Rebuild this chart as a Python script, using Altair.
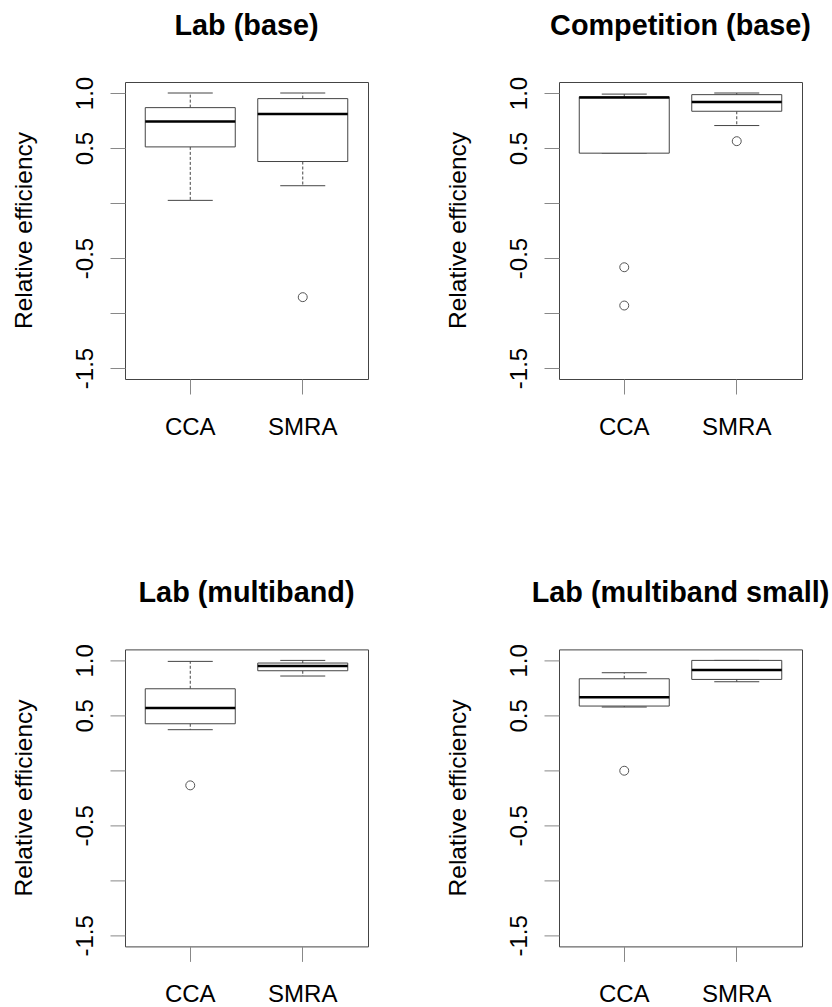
import altair as alt
import pandas as pd

# Box-plot summaries of relative efficiency for each experiment and method
panels = ["Lab (base)", "Competition (base)", "Lab (multiband)", "Lab (multiband small)"]
methods = ["CCA", "SMRA"]

lower_whisker = [[0.024, 0.157], [0.453, 0.704], [0.370, 0.858], [0.576, 0.806]]
q1 = [[0.510, 0.377], [0.453, 0.834], [0.424, 0.906], [0.585, 0.827]]
median = [[0.740, 0.810], [0.958, 0.918], [0.567, 0.948], [0.664, 0.912]]
q3 = [[0.867, 0.949], [0.965, 0.985], [0.742, 0.976], [0.833, 1.000]]
upper_whisker = [[1.000, 1.000], [0.990, 1.000], [0.991, 1.000], [0.888, 1.000]]
outliers = [[[], [-0.856]], [[-0.584, -0.932], [0.562]], [[-0.136], []], [[-0.003], []]]

y_ticks = [-1.5, -1.0, -0.5, 0.0, 0.5, 1.0]
y_tick_labels = ["-1.5", "", "-0.5", "", "0.5", "1.0"]
y_label = "Relative efficiency"

FONT = "Liberation Sans, Arial, sans-serif"
LINE = "#444444"
TICK = "#888888"

label_expr = " : ".join(
    f"datum.value == {v} ? '{t}'" for v, t in zip(y_ticks, y_tick_labels)
) + " : ''"

x_scale = alt.Scale(domain=methods, paddingInner=0.2, paddingOuter=0.18)
y_scale = alt.Scale(domain=[-1.6, 1.1], nice=False, zero=False)

x_axis = alt.Axis(
    title=None, domain=False, grid=False, ticks=True, tickSize=15, tickColor=TICK,
    tickWidth=1, labelAngle=0, labelFontSize=24, labelFont=FONT, labelColor="black",
    labelPadding=40, labelBaseline="alphabetic",
)
y_axis = alt.Axis(
    title=y_label, values=y_ticks, labelExpr=label_expr, domain=False, grid=False,
    tickSize=15, tickColor=TICK, tickWidth=1, labelAngle=-90, labelAlign="center",
    labelBaseline="alphabetic", labelPadding=18, labelFontSize=24, labelFont=FONT,
    labelColor="black", labelOverlap=False, labelFlush=False, labelBound=False,
    titleFont=FONT, titleFontSize=24.5, titleFontWeight="normal", titleColor="black",
    titleX=-94, titleY=148, titleAngle=270, titleBaseline="alphabetic", titleAlign="center",
)


def panel(i):
    stats = pd.DataFrame({
        "method": methods,
        "lo": lower_whisker[i],
        "q1": q1[i],
        "med": median[i],
        "q3": q3[i],
        "hi": upper_whisker[i],
    })
    pts = pd.DataFrame(
        [{"method": m, "value": v} for j, m in enumerate(methods) for v in outliers[i][j]]
    )

    def xe(band=0.5):
        return alt.X("method:N", scale=x_scale, axis=x_axis, sort=methods, bandPosition=band)

    def ye(field):
        return alt.Y(f"{field}:Q", scale=y_scale, axis=y_axis)

    base = alt.Chart(stats)
    whisk_hi = base.mark_rule(color=LINE, strokeWidth=1, strokeDash=[3, 2]).encode(
        x=xe(), y=ye("q3"), y2="hi:Q")
    whisk_lo = base.mark_rule(color=LINE, strokeWidth=1, strokeDash=[3, 2]).encode(
        x=xe(), y=ye("q1"), y2="lo:Q")
    cap_hi = base.mark_rule(color=LINE, strokeWidth=1).encode(
        x=xe(0.25), x2=alt.X2("method:N", bandPosition=0.75), y=ye("hi"))
    cap_lo = base.mark_rule(color=LINE, strokeWidth=1).encode(
        x=xe(0.25), x2=alt.X2("method:N", bandPosition=0.75), y=ye("lo"))
    box = base.mark_bar(fill="white", stroke=LINE, strokeWidth=1).encode(
        x=alt.X("method:N", scale=x_scale, axis=x_axis, sort=methods), y=ye("q1"), y2="q3:Q")
    med = base.mark_rule(color="black", strokeWidth=2.5).encode(
        x=xe(0.0), x2=alt.X2("method:N", bandPosition=1.0), y=ye("med"))
    out = alt.Chart(pts).mark_point(
        shape="circle", filled=False, size=80, stroke="#555555", strokeWidth=1, opacity=1
    ).encode(x=xe(), y=ye("value"))

    return alt.layer(whisk_hi, whisk_lo, cap_hi, cap_lo, box, med, out).properties(
        width=243, height=297,
        title=alt.TitleParams(
            panels[i], font=FONT, fontSize=28.8, fontWeight="bold", color="black",
            anchor="middle", baseline="alphabetic", offset=13,
        ),
    )


chart = alt.concat(
    *[panel(i) for i in range(4)],
    columns=2,
    spacing={"row": 270.4, "column": 191},
    bounds="flush",
).properties(
    padding={"left": 10, "top": 11, "right": 0, "bottom": 0},
    background="white",
).configure_view(
    stroke=LINE, strokeWidth=1, fill="white",
)

chart.save("out.html", embed_options={"renderer": "svg", "actions": False})
